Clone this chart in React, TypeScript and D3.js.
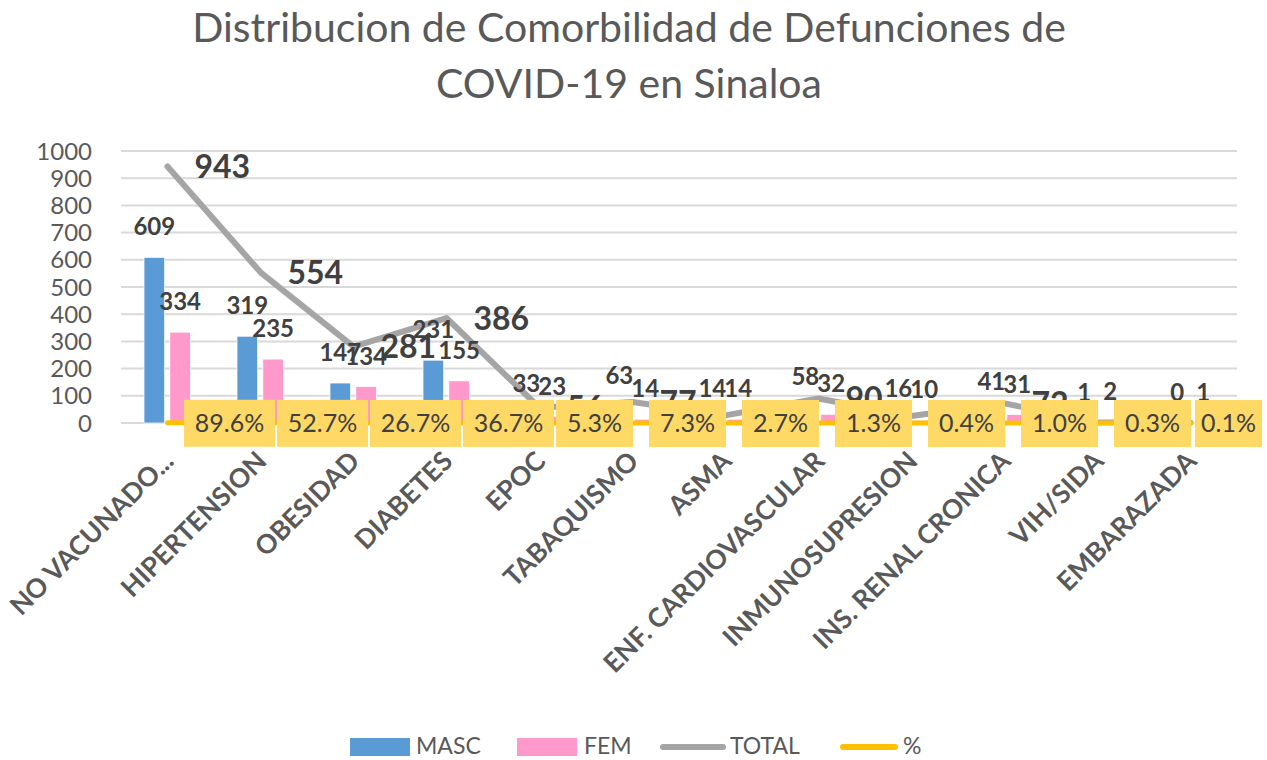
import React from "react";
import * as d3 from "d3";

// DATA
const categories = [
  "NO VACUNADO...",
  "HIPERTENSION",
  "OBESIDAD",
  "DIABETES",
  "EPOC",
  "TABAQUISMO",
  "ASMA",
  "ENF. CARDIOVASCULAR",
  "INMUNOSUPRESION",
  "INS. RENAL CRONICA",
  "VIH/SIDA",
  "EMBARAZADA",
];
const masc = [609, 319, 147, 231, 33, 63, 14, 58, 16, 41, 1, 0];
const fem = [334, 235, 134, 155, 23, 14, 14, 32, 10, 31, 2, 1];
const total = [943, 554, 281, 386, 56, 77, 28, 90, 26, 72, 3, 1];
const pct = [0.896, 0.527, 0.267, 0.367, 0.053, 0.073, 0.027, 0.013, 0.004, 0.01, 0.003, 0.001];
const yTicks = [0, 100, 200, 300, 400, 500, 600, 700, 800, 900, 1000];

const W = 1267;
const H = 760;
const FONT = "Lato, 'Open Sans', sans-serif";
const TEXT_DARK = "#404040";
const TEXT_GREY = "#595959";

export default function App() {
  // SCALES
  const x = d3.scaleBand<string>().domain(categories).range([121, 1237]);
  const xSub = d3
    .scaleBand<string>()
    .domain(["MASC", "FEM"])
    .range([-23.5, 23])
    .paddingInner(0.2);
  const y = d3.scaleLinear().domain([0, 1000]).range([423, 151]);

  const cx = (i: number) => (x(categories[i]) ?? 0) + x.bandwidth() / 2;

  const totalLine = d3
    .line<number>()
    .x((_, i) => cx(i))
    .y((d) => y(d));

  const pctLine = d3
    .line<number>()
    .x((_, i) => cx(i))
    .y((d) => y(d));

  const fmtPct = d3.format(".1%");

  // % label boxes, placed right of the point, pushed back inside the chart
  let prevRight = -Infinity;
  const boxes = pct.map((v, i) => {
    const label = fmtPct(v);
    let w = label.length * 14 + 21;
    let left = cx(i) + 16.5;
    if (left + w > W - 5) {
      left = Math.max(W - 5 - w, prevRight + 4);
      w = Math.min(w, W - 5 - left);
    }
    prevRight = left + w;
    return { label, left, w, v };
  });

  return (
    <svg
      width={W}
      height={H}
      style={{ position: "absolute", left: 0, top: 0, background: "#fff" }}
      fontFamily={FONT}
    >
      {/* TITLE */}
      <text x={629} y={42} textAnchor="middle" fontSize={41} fill={TEXT_GREY}>
        Distribucion de Comorbilidad de Defunciones de
      </text>
      <text x={629} y={98} textAnchor="middle" fontSize={41} fill={TEXT_GREY}>
        COVID-19 en Sinaloa
      </text>

      {/* GRID + Y AXIS */}
      {yTicks.map((t) => (
        <g key={t}>
          <line x1={121} x2={1237} y1={y(t)} y2={y(t)} stroke="#D9D9D9" strokeWidth={2} />
          <text
            x={92}
            y={y(t)}
            dy="0.36em"
            textAnchor="end"
            fontSize={24}
            fill={TEXT_GREY}
          >
            {t}
          </text>
        </g>
      ))}

      {/* BARS */}
      {categories.map((c, i) => (
        <g key={c}>
          <rect
            x={cx(i) + (xSub("MASC") ?? 0)}
            y={y(masc[i])}
            width={xSub.bandwidth()}
            height={y(0) - y(masc[i])}
            fill="#5B9BD5"
            stroke="#fff"
            strokeWidth={0.75}
          />
          <rect
            x={cx(i) + (xSub("FEM") ?? 0)}
            y={y(fem[i])}
            width={xSub.bandwidth()}
            height={y(0) - y(fem[i])}
            fill="#FF99CC"
            stroke="#fff"
            strokeWidth={0.75}
          />
        </g>
      ))}

      {/* LINES */}
      <path
        d={totalLine(total) ?? ""}
        fill="none"
        stroke="#A5A5A5"
        strokeWidth={6}
        strokeLinejoin="round"
        strokeLinecap="round"
      />
      <path
        d={pctLine(pct) ?? ""}
        fill="none"
        stroke="#FFC000"
        strokeWidth={5}
        strokeLinejoin="round"
        strokeLinecap="round"
      />

      {/* BAR LABELS */}
      {categories.map((c, i) => (
        <g key={c} fontWeight="bold" fontSize={24} fill={TEXT_DARK} textAnchor="middle">
          <text x={cx(i) + (xSub("MASC") ?? 0) + xSub.bandwidth() / 2} y={y(masc[i]) - 22}>
            {masc[i]}
          </text>
          <text x={cx(i) + (xSub("FEM") ?? 0) + xSub.bandwidth() / 2} y={y(fem[i]) - 22}>
            {fem[i]}
          </text>
        </g>
      ))}

      {/* TOTAL LABELS */}
      {total.map((v, i) => (
        <text
          key={i}
          x={cx(i) + 27}
          y={y(v)}
          dy="0.36em"
          fontWeight="bold"
          fontSize={32}
          fill={TEXT_DARK}
        >
          {v}
        </text>
      ))}

      {/* % LABEL BOXES */}
      {boxes.map((b, i) => (
        <g key={i}>
          <rect x={b.left} y={y(b.v) - 23} width={b.w} height={47} fill="#FFD966" />
          <text
            x={b.left + b.w / 2}
            y={y(b.v)}
            dy="0.36em"
            textAnchor="middle"
            fontSize={25}
            fill={TEXT_DARK}
          >
            {b.label}
          </text>
        </g>
      ))}

      {/* CATEGORY LABELS */}
      {categories.map((c, i) => (
        <text
          key={c}
          transform={`translate(${cx(i) + 1},${456}) rotate(-45)`}
          dy="0.36em"
          textAnchor="end"
          fontWeight="bold"
          fontSize={26.5}
          fill={TEXT_GREY}
        >
          {c}
        </text>
      ))}

      {/* LEGEND */}
      <g fontSize={23} fill={TEXT_GREY}>
        <rect x={350} y={738} width={60} height={18} fill="#5B9BD5" />
        <text x={416} y={746} dy="0.36em">MASC</text>
        <rect x={517} y={738} width={60} height={18} fill="#FF99CC" />
        <text x={584} y={746} dy="0.36em">FEM</text>
        <line x1={663} x2={723} y1={747} y2={747} stroke="#A5A5A5" strokeWidth={6} strokeLinecap="round" />
        <text x={730} y={746} dy="0.36em">TOTAL</text>
        <line x1={843} x2={895} y1={747} y2={747} stroke="#FFC000" strokeWidth={6} strokeLinecap="round" />
        <text x={903} y={746} dy="0.36em">%</text>
      </g>
    </svg>
  );
}
